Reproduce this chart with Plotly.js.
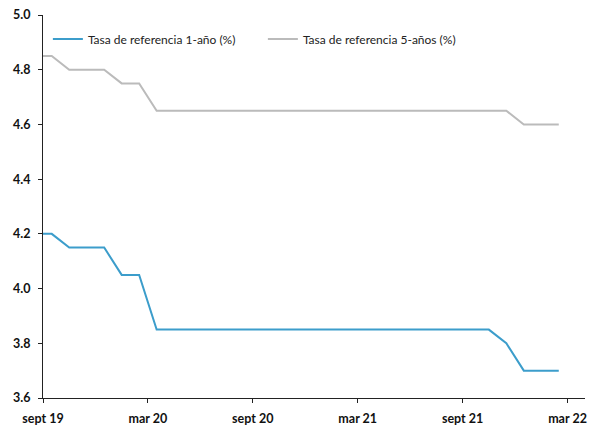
<!DOCTYPE html>
<html>
<head>
<meta charset="utf-8">
<script src="https://cdn.plot.ly/plotly-3.0.1.min.js"></script>
<style>html,body{margin:0;padding:0;background:#fff;}#chart{width:600px;height:425px;}</style>
</head>
<body>
<div id="chart"></div>
<script>
// Monthly observations, Sep 2019 – Mar 2022
const months = ["2019-09","2019-10","2019-11","2019-12","2020-01","2020-02","2020-03","2020-04","2020-05","2020-06","2020-07","2020-08","2020-09","2020-10","2020-11","2020-12","2021-01","2021-02","2021-03","2021-04","2021-05","2021-06","2021-07","2021-08","2021-09","2021-10","2021-11","2021-12","2022-01","2022-02","2022-03"];
const rate1y = [4.20,4.20,4.15,4.15,4.15,4.05,4.05,3.85,3.85,3.85,3.85,3.85,3.85,3.85,3.85,3.85,3.85,3.85,3.85,3.85,3.85,3.85,3.85,3.85,3.85,3.85,3.85,3.80,3.70,3.70,3.70];
const rate5y = [4.85,4.85,4.80,4.80,4.80,4.75,4.75,4.65,4.65,4.65,4.65,4.65,4.65,4.65,4.65,4.65,4.65,4.65,4.65,4.65,4.65,4.65,4.65,4.65,4.65,4.65,4.65,4.65,4.60,4.60,4.60];
const seriesNames = ["Tasa de referencia 1-año (%)", "Tasa de referencia 5-años (%)"];
const tickLabels = ["sept 19","mar 20","sept 20","mar 21","sept 21","mar 22"];
const tickMonths = ["2019-09","2020-03","2020-09","2021-03","2021-09","2022-03"];

const xIdx = months.map((m, i) => i);
// ticks sit between category slots (Excel "between tick marks")
const tickVals = tickMonths.map(m => months.indexOf(m) + 0.5);

const font = "Lato, 'Open Sans', sans-serif";
const traces = [
  {x: xIdx, y: rate1y, text: months, name: seriesNames[0], type: "scatter", mode: "lines",
   line: {color: "#3C9DCB", width: 2}},
  {x: xIdx, y: rate5y, text: months, name: seriesNames[1], type: "scatter", mode: "lines",
   line: {color: "#BBBBBB", width: 2}}
];
const layout = {
  width: 600, height: 425,
  margin: {l: 43, r: 15, t: 15, b: 27},
  paper_bgcolor: "#fff", plot_bgcolor: "#fff",
  font: {family: font, size: 12, color: "#111"},
  showlegend: true,
  legend: {orientation: "h", x: 0.009, y: 0.975, xanchor: "left", yanchor: "top",
           font: {family: font, size: 12, color: "#222"}, bgcolor: "rgba(0,0,0,0)",
           entrywidth: 170, traceorder: "normal"},
  xaxis: {range: [0.5, 31.5], tickmode: "array", tickvals: tickVals, ticktext: tickLabels,
          showgrid: false, zeroline: false, showline: true, linecolor: "#222", linewidth: 1,
          ticks: "outside", ticklen: 4, tickcolor: "#222", ticklabelstandoff: 5,
          tickfont: {family: font, size: 12.5, color: "#111", weight: "bold"}},
  yaxis: {range: [3.6, 5.0], tickmode: "array", tickvals: [3.6,3.8,4.0,4.2,4.4,4.6,4.8,5.0],
          ticktext: ["3.6","3.8","4.0","4.2","4.4","4.6","4.8","5.0"],
          showgrid: false, zeroline: false, showline: true, linecolor: "#222", linewidth: 1,
          ticks: "outside", ticklen: 4, tickcolor: "#222", ticklabelstandoff: 5,
          tickfont: {family: font, size: 12.5, color: "#111", weight: "bold"}}
};
Plotly.newPlot("chart", traces, layout, {displayModeBar: false, staticPlot: true});
</script>
</body>
</html>
